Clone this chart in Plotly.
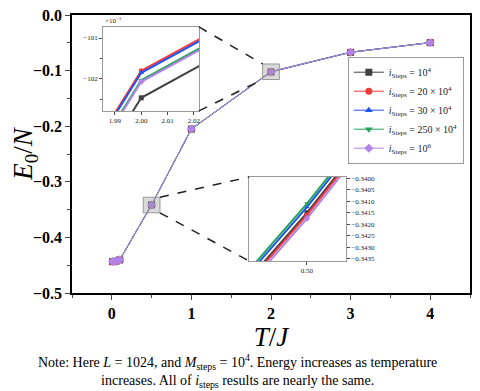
import plotly.graph_objects as go

# temperatures and ground-state-like energy per site for each i_steps run
T = [0.01, 0.05, 0.1, 0.5, 1, 2, 3, 4]
e_1e4 = [-0.4436, -0.4428, -0.4405, -0.34150, -0.2052, -0.10246, -0.0672, -0.0497]
e_20e4 = [-0.4434, -0.4427, -0.4403, -0.34160, -0.2050, -0.10180, -0.0668, -0.0496]
e_30e4 = [-0.4435, -0.4426, -0.4404, -0.34125, -0.2050, -0.10185, -0.0669, -0.0496]
e_250e4 = [-0.4436, -0.4427, -0.4404, -0.34110, -0.2051, -0.10203, -0.0670, -0.0497]
e_1e6 = [-0.4435, -0.4427, -0.4404, -0.34175, -0.2051, -0.10207, -0.0671, -0.0497]

names = ["<i>i</i><sub>Steps</sub> = 10<sup>4</sup>",
         "<i>i</i><sub>Steps</sub> = 20 × 10<sup>4</sup>",
         "<i>i</i><sub>Steps</sub> = 30 × 10<sup>4</sup>",
         "<i>i</i><sub>Steps</sub> = 250 × 10<sup>4</sup>",
         "<i>i</i><sub>Steps</sub> = 10<sup>6</sup>"]

# tick labels of the two zoom insets
in1_xticks = [1.99, 2.00, 2.01, 2.02]
in1_yticks = [-0.101, -0.102]
in1_ylabels = ["−101", "−102"]
in2_xticks = [0.50]
in2_yticks = [-0.3400, -0.3405, -0.3410, -0.3415, -0.3420, -0.3425, -0.3430, -0.3435]

series = [e_1e4, e_20e4, e_30e4, e_250e4, e_1e6]
colors = ["#404040", "#f23b3b", "#1f55f2", "#27a35c", "#b383e8"]
symbols = ["square", "circle", "triangle-up", "triangle-down", "diamond"]

SERIF = "Liberation Serif"

xr_main = [-0.5, 4.5]
yr_main = [-0.5, 0.0]
xr_in1 = [1.9855, 2.0219]
yr_in1 = [-0.10278, -0.10073]
xr_in2 = [0.4884, 0.5078]
yr_in2 = [-0.34359, -0.33995]
dom1_x, dom1_y = [0.078, 0.319], [0.655, 0.957]
dom2_x, dom2_y = [0.445, 0.688], [0.115, 0.417]

fig = go.Figure()

for i in range(len(series)):
    fig.add_scatter(x=T, y=series[i], name=names[i], mode="lines+markers",
                    line=dict(color=colors[i], width=1),
                    marker=dict(color=colors[i], symbol=symbols[i], size=7))
    fig.add_scatter(x=T, y=series[i], mode="lines+markers", showlegend=False,
                    xaxis="x2", yaxis="y2", cliponaxis=True,
                    line=dict(color=colors[i], width=2),
                    marker=dict(color=colors[i], symbol=symbols[i], size=5))
    fig.add_scatter(x=T, y=series[i], mode="lines+markers", showlegend=False,
                    xaxis="x3", yaxis="y3", cliponaxis=True,
                    line=dict(color=colors[i], width=2),
                    marker=dict(color=colors[i], symbol=symbols[i], size=5))


def to_paper(v, r):
    return (v - r[0]) / (r[1] - r[0])


# zoom boxes around T=2 and T=0.5
hw, hh = 0.105, 0.014
shapes = []
boxes = [(2.0, e_1e6[5]), (0.5, e_1e6[3])]
for cx, cy in boxes:
    shapes.append(dict(type="rect", xref="x", yref="y",
                       x0=cx - hw, x1=cx + hw, y0=cy - hh, y1=cy + hh,
                       fillcolor="rgba(150,150,150,0.35)",
                       line=dict(color="#999", width=1), layer="above"))

dash = dict(color="#222", width=1.5, dash="dash")
# upper inset -> box around T=2
bx0 = to_paper(boxes[0][0] - hw, xr_main)
by0 = to_paper(boxes[0][1] - hh, yr_main)
by1 = to_paper(boxes[0][1] + hh, yr_main)
shapes.append(dict(type="line", xref="paper", yref="paper",
                   x0=dom1_x[1], y0=dom1_y[1], x1=bx0, y1=by1, line=dash))
shapes.append(dict(type="line", xref="paper", yref="paper",
                   x0=dom1_x[1], y0=dom1_y[0], x1=bx0, y1=by0, line=dash))
# box around T=0.5 -> lower inset
bx1 = to_paper(boxes[1][0] + hw, xr_main)
by0 = to_paper(boxes[1][1] - hh, yr_main)
by1 = to_paper(boxes[1][1] + hh, yr_main)
shapes.append(dict(type="line", xref="paper", yref="paper",
                   x0=bx1, y0=by1, x1=dom2_x[0], y1=dom2_y[1], line=dash))
shapes.append(dict(type="line", xref="paper", yref="paper",
                   x0=bx1, y0=by0, x1=dom2_x[0], y1=dom2_y[0], line=dash))

tickf = dict(family=SERIF, size=16, color="black", weight="bold")
smallf = dict(family=SERIF, size=7, color="#222")

# page body has an 8px margin, so the figure is 8px smaller than the window
fig.update_layout(
    width=472, height=383,
    margin=dict(l=64, r=10, t=7, b=98, autoexpand=False),
    paper_bgcolor="white", plot_bgcolor="white",
    shapes=shapes,
    xaxis=dict(range=xr_main, dtick=1, tick0=0, ticks="outside", ticklen=5,
               tickwidth=1.2, showline=True, linecolor="black", linewidth=1.5,
               mirror=True, showgrid=False, zeroline=False, tickfont=tickf,
               automargin=False, ticklabeloverflow="allow",
               minor=dict(dtick=0.5, ticks="outside", ticklen=3),
               title=dict(text="<i>T</i>/<i>J</i>", standoff=2,
                          font=dict(family=SERIF, size=27, color="black"))),
    yaxis=dict(range=yr_main, dtick=0.1, tick0=0, ticks="outside", ticklen=5,
               tickwidth=1.2, showline=True, linecolor="black", linewidth=1.5,
               mirror=True, showgrid=False, zeroline=False, tickfont=tickf,
               tickformat=".1f", automargin=False, ticklabeloverflow="allow",
               minor=dict(dtick=0.05, ticks="outside", ticklen=3),
               title=dict(text="<i>E</i><sub>0</sub>/<i>N</i>", standoff=14,
                          font=dict(family=SERIF, size=27, color="black"))),
    xaxis2=dict(domain=dom1_x, anchor="y2", range=xr_in1,
                tickvals=in1_xticks, tickformat=".2f",
                ticks="outside", ticklen=3, showline=True, linecolor="#999",
                mirror=True, showgrid=False, zeroline=False, tickfont=smallf,
                automargin=False),
    yaxis2=dict(domain=dom1_y, anchor="x2", range=yr_in1,
                tickvals=in1_yticks, ticktext=in1_ylabels,
                ticks="outside", ticklen=3, showline=True, linecolor="#999",
                mirror=True, showgrid=False, zeroline=False, tickfont=smallf,
                automargin=False,
                minor=dict(tickvals=[-0.1005, -0.1015, -0.1025], ticks="outside", ticklen=2)),
    xaxis3=dict(domain=dom2_x, anchor="y3", range=xr_in2,
                tickvals=in2_xticks, tickformat=".2f",
                ticks="outside", ticklen=3, showline=True, linecolor="#999",
                mirror=True, showgrid=False, zeroline=False, tickfont=smallf,
                automargin=False),
    yaxis3=dict(domain=dom2_y, anchor="x3", range=yr_in2, side="right",
                tickvals=in2_yticks, tickformat=".4f",
                ticks="outside", ticklen=3, showline=True, linecolor="#999",
                mirror=True, showgrid=False, zeroline=False, tickfont=smallf,
                automargin=False),
    legend=dict(x=0.693, y=0.85, xanchor="left", yanchor="top",
                bgcolor="white", bordercolor="#999", borderwidth=1,
                font=dict(family=SERIF, size=10, color="#222"),
                itemwidth=30, tracegroupgap=0),
    annotations=[
        dict(xref="paper", yref="paper", x=dom1_x[0], y=dom1_y[1],
             xanchor="left", yanchor="bottom", showarrow=False,
             text="×10<sup>−3</sup>", font=dict(family=SERIF, size=7, color="#222")),
        dict(xref="paper", yref="paper", x=0.417, y=-0.205,
             xanchor="center", yanchor="top", showarrow=False, align="center",
             text="Note: Here <i>L</i> = 1024, and <i>M</i><sub>steps</sub> = 10<sup>4</sup>. "
                  "Energy increases as temperature<br>increases. All of "
                  "<i>i</i><sub>steps</sub> results are nearly the same.",
             font=dict(family=SERIF, size=14, color="black")),
    ],
)

fig.write_html("out.html")
